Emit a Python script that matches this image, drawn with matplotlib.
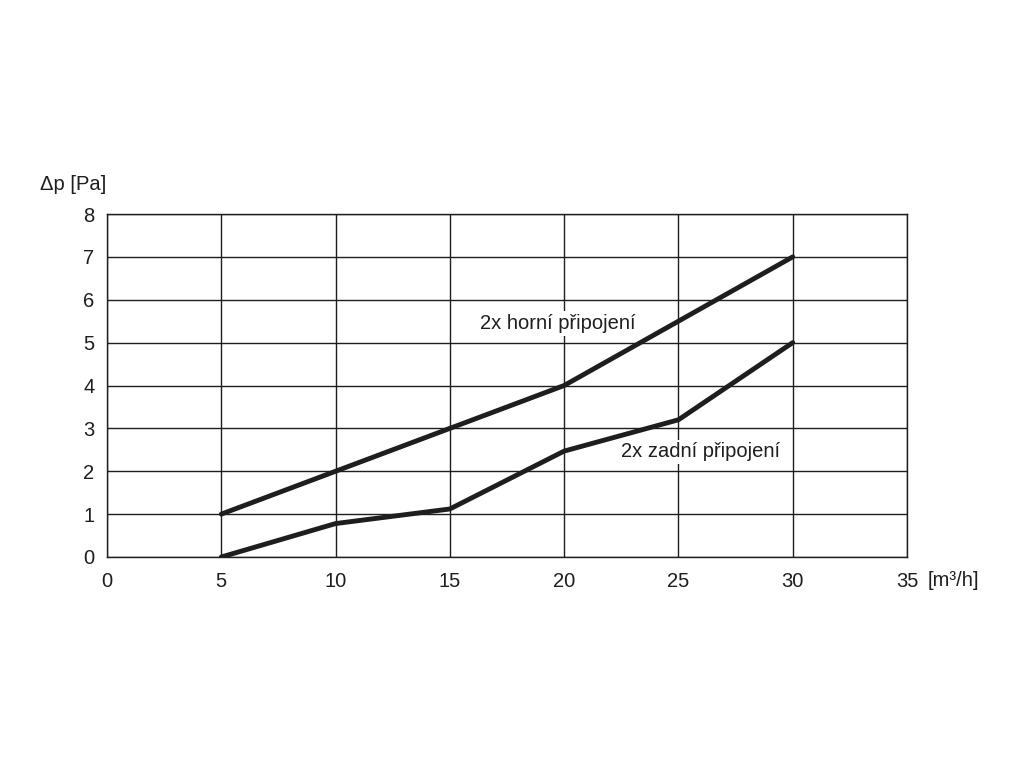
import matplotlib.pyplot as plt

plt.rcParams['font.family'] = ['Liberation Sans', 'DejaVu Sans']

flow = [5, 10, 15, 20, 25, 30]
horni = [1, 2, 3, 4, 5.5, 7]
zadni = [0, 0.78, 1.12, 2.47, 3.2, 5]

fig = plt.figure(figsize=(10.24, 7.68), dpi=100)
ax = fig.add_axes([107 / 1024, 1 - 557 / 768, 800 / 1024, 343 / 768])

ax.plot(flow, horni, color='#1e1e1e', lw=3.5, solid_capstyle='round', zorder=3)
ax.plot(flow, zadni, color='#1e1e1e', lw=3.5, solid_capstyle='round', zorder=3)

ax.set_xlim(0, 35)
ax.set_ylim(0, 8)
ax.set_xticks(range(0, 36, 5))
ax.set_yticks(range(0, 9))
ax.grid(True, color='#1e1e1e', lw=1.0)
for s in ax.spines.values():
    s.set_color('#1e1e1e')
    s.set_linewidth(1.0)
ax.tick_params(length=0, labelsize=14.5, colors='#1e1e1e', pad=9)
ax.tick_params(axis='x', pad=11)

ax.text(16.3, 5.45, '2x horní připojení', fontsize=14.5, color='#1e1e1e',
        va='center', ha='left', zorder=4,
        bbox=dict(facecolor='white', edgecolor='none', pad=2))
ax.text(22.5, 2.45, '2x zadní připojení', fontsize=14.5, color='#1e1e1e',
        va='center', ha='left', zorder=4,
        bbox=dict(facecolor='white', edgecolor='none', pad=2))

fig.text(40 / 1024, 1 - 185 / 768, 'Δp [Pa]', fontsize=14.5, color='#1e1e1e',
         va='center', ha='left')
fig.text(928 / 1024, 1 - 580 / 768, '[m³/h]', fontsize=14.5, color='#1e1e1e',
         va='center', ha='left')

fig.savefig('out.png', dpi=100)
